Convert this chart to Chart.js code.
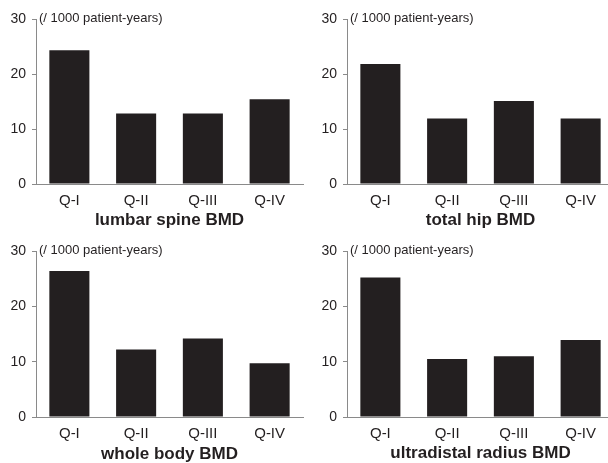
<!DOCTYPE html>
<html lang="en">
<head>
    <meta charset="UTF-8">
    <title>Fracture incidence by BMD quartile</title>
    <style>
        html, body { margin: 0; padding: 0; background: #fff; overflow: hidden; }
        body { width: 608px; height: 463px; position: relative; }
        .panel { position: absolute; width: 304px; }
        .panel canvas { display: block; }
    </style>
</head>
<body>
    <div class="panel" id="p1" style="left:0; top:0; height:230px;"><canvas id="c1"></canvas></div>
    <div class="panel" id="p2" style="left:311px; top:0; height:230px;"><canvas id="c2"></canvas></div>
    <div class="panel" id="p3" style="left:0; top:230px; height:233px;"><canvas id="c3"></canvas></div>
    <div class="panel" id="p4" style="left:311px; top:230px; height:233px;"><canvas id="c4"></canvas></div>

    <script src="https://cdn.jsdelivr.net/npm/chart.js"></script>
    <script>
        // quartile labels and rates per 1000 patient-years
        const quartiles = ['Q-I', 'Q-II', 'Q-III', 'Q-IV'];
        const yTicks = [0, 10, 20, 30];
        const unitLabel = '(/ 1000 patient-years)';

        const lumbarSpine = [24.3, 12.8, 12.8, 15.4];
        const totalHip = [21.8, 11.9, 15.1, 11.9];
        const wholeBody = [26.4, 12.2, 14.2, 9.7];
        const ultradistalRadius = [25.2, 10.5, 11.0, 13.9];

        const FONT = 'Liberation Sans, Arial, Helvetica, sans-serif';
        const INK = '#231f20';
        const AXIS = '#8a8a8a';

        // writes the unit text next to the top tick
        const unitPlugin = {
            id: 'unitText',
            afterDraw(chart) {
                const ctx = chart.ctx;
                const y = chart.scales.y.getPixelForValue(30);
                ctx.save();
                ctx.font = '13px ' + FONT;
                ctx.fillStyle = INK;
                ctx.textBaseline = 'middle';
                ctx.fillText(unitLabel, chart.chartArea.left + 3, y - 1);
                ctx.restore();
            }
        };

        function makePanel(id, values, title, topPad, xHeight, titleShift) {
            const ctx = document.getElementById(id).getContext('2d');
            return new Chart(ctx, {
                type: 'bar',
                data: {
                    labels: quartiles,
                    datasets: [{
                        data: values,
                        backgroundColor: INK,
                        borderWidth: 0,
                        barPercentage: 0.6,
                        categoryPercentage: 1
                    }]
                },
                options: {
                    responsive: true,
                    maintainAspectRatio: false,
                    animation: false,
                    layout: { padding: { top: topPad, right: 1, left: 0, bottom: 0 } },
                    plugins: {
                        legend: { display: false },
                        tooltip: { enabled: false }
                    },
                    scales: {
                        x: {
                            grid: { display: false, drawTicks: false },
                            border: { display: true, color: AXIS, width: 1 },
                            ticks: { color: INK, font: { family: FONT, size: 15 }, padding: 8 },
                            title: {
                                display: true,
                                text: title,
                                color: INK,
                                font: { family: FONT, size: 17, weight: 'bold' },
                                // title is anchored to the scale bottom; negative pushes it down
                                padding: { top: 0, bottom: -titleShift }
                            },
                            afterFit(scale) { scale.height = xHeight; }
                        },
                        y: {
                            min: 0,
                            max: 30,
                            afterBuildTicks(scale) { scale.ticks = yTicks.map(v => ({ value: v })); },
                            grid: { drawOnChartArea: false, drawTicks: true, tickLength: 4, color: AXIS },
                            border: { display: true, color: AXIS, width: 1 },
                            ticks: { color: INK, font: { family: FONT, size: 14 }, padding: 6 },
                            afterFit(scale) { scale.width = 36; }
                        }
                    }
                },
                plugins: [unitPlugin]
            });
        }

        makePanel('c1', lumbarSpine, 'lumbar spine BMD', 19, 46, 1);
        makePanel('c2', totalHip, 'total hip BMD', 19, 46, 1);
        makePanel('c3', wholeBody, 'whole body BMD', 21, 46, 2);
        makePanel('c4', ultradistalRadius, 'ultradistal radius BMD', 21, 46, 1);
    </script>
</body>
</html>
